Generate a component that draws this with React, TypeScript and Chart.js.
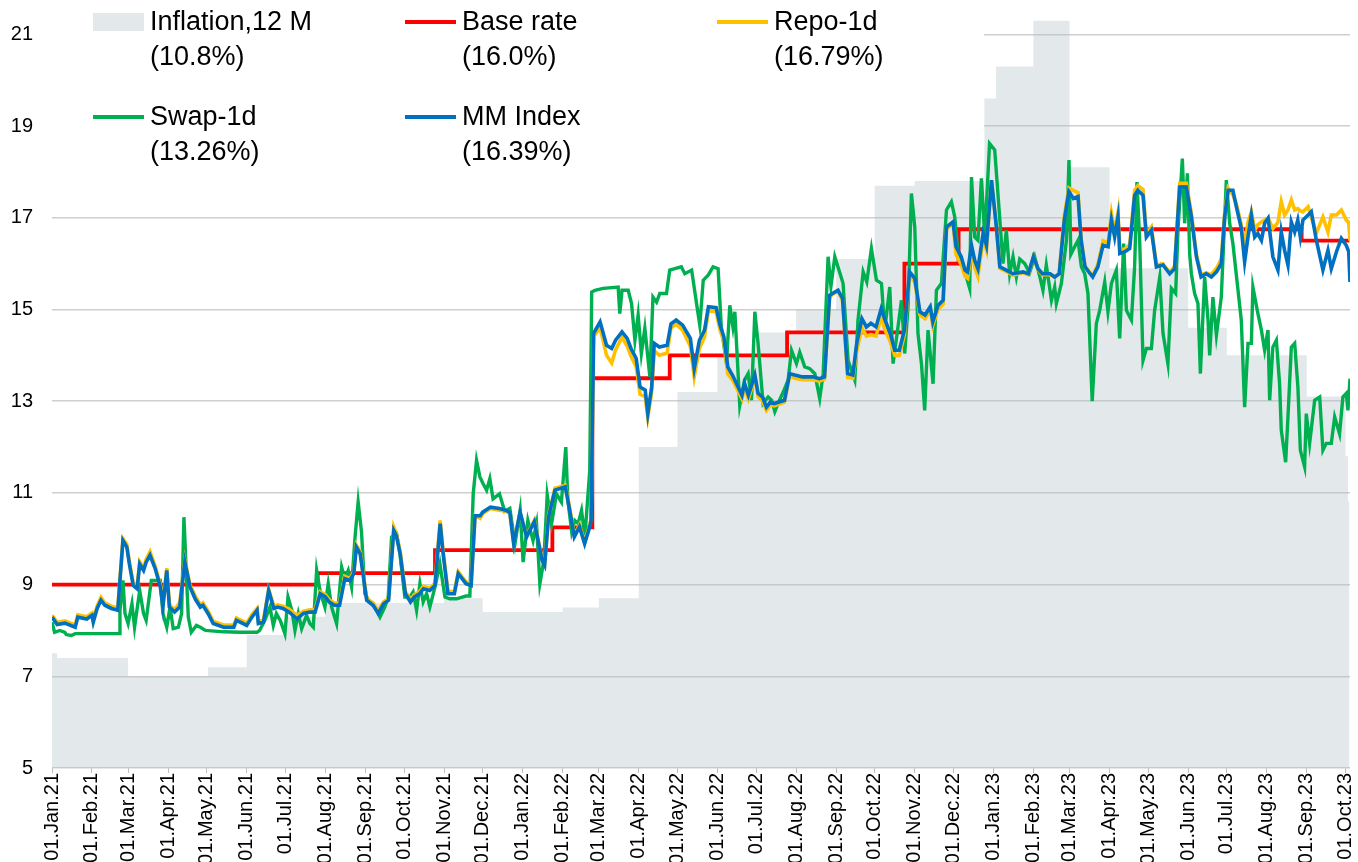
import React, { useEffect, useRef } from "react";
import { Chart, registerables } from "chart.js";

Chart.register(...registerables);

const FONT = "'Liberation Sans', Arial, Helvetica, sans-serif";
const MONTHS = ["Jan", "Feb", "Mar", "Apr", "May", "Jun", "Jul", "Aug", "Sep", "Oct", "Nov", "Dec"];

// x tick labels (first day of each month)
const tickLabels = [
  "01.Jan.21", "01.Feb.21", "01.Mar.21", "01.Apr.21", "01.May.21", "01.Jun.21", "01.Jul.21", "01.Aug.21",
  "01.Sep.21", "01.Oct.21", "01.Nov.21", "01.Dec.21", "01.Jan.22", "01.Feb.22", "01.Mar.22", "01.Apr.22",
  "01.May.22", "01.Jun.22", "01.Jul.22", "01.Aug.22", "01.Sep.22", "01.Oct.22", "01.Nov.22", "01.Dec.22",
  "01.Jan.23", "01.Feb.23", "01.Mar.23", "01.Apr.23", "01.May.23", "01.Jun.23", "01.Jul.23", "01.Aug.23",
  "01.Sep.23", "01.Oct.23",
];
const yTicks = [5, 7, 9, 11, 13, 15, 17, 19, 21];

// Base rate (step changes)
const baseRateDates = ["2021-01-01", "2021-07-26", "2021-10-25", "2022-01-24", "2022-02-24", "2022-04-25", "2022-07-25", "2022-10-24", "2022-12-05", "2023-08-28", "2023-10-04"];
const baseRateValues = [9.0, 9.25, 9.75, 10.25, 13.5, 14.0, 14.5, 16.0, 16.75, 16.5, 16.5];

// Inflation, 12 M (step series)
const inflationDates = ["2021-01-01", "2021-01-05", "2021-03-01", "2021-05-02", "2021-06-01", "2021-07-01", "2021-08-01", "2021-11-01", "2021-12-01", "2022-02-01", "2022-03-01", "2022-04-01", "2022-05-01", "2022-06-01", "2022-07-01", "2022-08-01", "2022-09-01", "2022-10-01", "2022-11-01", "2022-12-25", "2023-01-03", "2023-02-01", "2023-03-01", "2023-04-01", "2023-06-01", "2023-07-01", "2023-09-01", "2023-10-01", "2023-10-03", "2023-10-04"];
const inflationValues = [7.5, 7.4, 7.0, 7.2, 7.9, 8.3, 8.6, 8.7, 8.4, 8.5, 8.7, 12.0, 13.2, 14.0, 14.5, 15.0, 16.1, 17.7, 17.8, 19.6, 20.3, 21.3, 18.1, 15.9, 14.6, 14.0, 13.1, 11.8, 10.8, 10.8];

// [days since 01.Jan.21, %]
const mmIndex: [number, number][] = [
  [0, 8.29], [4, 8.13], [10, 8.16], [18, 8.07], [20, 8.29], [27, 8.25], [31, 8.33], [32, 8.18], [35, 8.48], [38, 8.66],
  [41, 8.55], [46, 8.48], [51, 8.44], [55, 9.96], [58, 9.82], [60, 9.45], [63, 8.98], [66, 8.91], [68, 9.45], [71, 9.31],
  [73, 9.49], [76, 9.64], [80, 9.35], [84, 8.95], [86, 8.51], [89, 9.31], [91, 8.51], [95, 8.4], [99, 8.51], [103, 9.49],
  [107, 8.95], [111, 8.69], [115, 8.51], [117, 8.55], [121, 8.37], [125, 8.15], [133, 8.07], [141, 8.07], [143, 8.22], [151, 8.11],
  [155, 8.29], [159, 8.44], [160, 8.15], [164, 8.18], [168, 8.87], [172, 8.48], [175, 8.51], [179, 8.48], [184, 8.4], [190, 8.25],
  [195, 8.37], [200, 8.4], [204, 8.4], [208, 8.8], [212, 8.73], [215, 8.62], [219, 8.55], [223, 8.55], [227, 9.13], [231, 9.09],
  [234, 9.24], [236, 9.82], [239, 9.67], [244, 8.66], [249, 8.55], [253, 8.37], [257, 8.58], [261, 8.66], [265, 10.18], [267, 10.07],
  [270, 9.67], [274, 8.8], [278, 8.62], [281, 8.73], [285, 8.8], [288, 8.91], [293, 8.87], [297, 8.98], [301, 10.33], [303, 9.75],
  [307, 8.8], [312, 8.8], [315, 9.24], [318, 9.13], [321, 9.02], [325, 8.98], [328, 10.5], [332, 10.5], [334, 10.58], [340, 10.69],
  [347, 10.66], [352, 10.62], [355, 10.58], [358, 9.89], [363, 10.58], [368, 10.04], [374, 10.37], [380, 9.53], [382, 9.42], [385, 10.47],
  [390, 11.06], [398, 11.13], [401, 10.69], [405, 10.04], [409, 10.26], [413, 9.89], [417, 10.26], [418, 10.4], [420, 14.48], [425, 14.73],
  [430, 14.22], [434, 14.15], [437, 14.33], [442, 14.51], [446, 14.37], [449, 14.15], [453, 13.93], [456, 13.31], [460, 13.24], [462, 12.73],
  [465, 13.31], [467, 14.26], [471, 14.18], [477, 14.22], [480, 14.69], [484, 14.77], [489, 14.66], [495, 14.37], [498, 13.71], [502, 14.33],
  [506, 14.55], [509, 15.06], [515, 15.04], [518, 14.66], [521, 14.4], [524, 13.75], [528, 13.55], [535, 13.13], [537, 13.39], [540, 13.13],
  [545, 13.57], [547.5, 13.17], [551, 13.09], [554, 12.87], [557, 12.98], [560, 12.95], [568, 13.02], [572, 13.6], [576, 13.57], [582, 13.53],
  [590, 13.53], [595, 13.49], [599, 13.53], [603, 15.31], [607, 15.38], [609.5, 15.42], [613, 15.24], [617, 13.6], [621, 13.57], [624, 14.26],
  [628, 14.8], [631.5, 14.62], [635, 14.7], [639, 14.62], [643, 15.02], [646, 14.77], [650, 14.48], [653.5, 14.11], [657, 14.11], [661, 14.55],
  [665, 15.82], [669, 15.68], [673, 14.95], [677, 14.88], [681, 15.06], [683, 14.73], [687, 15.09], [691, 15.2], [693.6, 16.8], [698.7, 16.91],
  [701, 16.37], [705, 16.15], [708, 15.86], [710, 15.82], [713, 16.4], [715.5, 16.07], [718, 15.89], [722, 16.66], [724.6, 16.4], [728.5, 17.82],
  [732, 16.88], [735, 15.93], [740, 15.86], [745, 15.78], [753, 15.82], [757, 15.78], [761, 16.15], [764.6, 15.89], [768, 15.78], [774, 15.78],
  [777.5, 15.71], [781, 15.78], [785, 16.95], [788.5, 17.57], [792, 17.42], [795.6, 17.46], [798, 16.51], [801, 15.93], [805, 15.78], [807, 15.71],
  [811, 15.93], [815, 16.4], [819, 16.37], [821.5, 16.95], [824, 16.58], [826.6, 17.02], [828, 16.22], [832, 16.26], [835.7, 16.33], [839.5, 17.49],
  [842, 17.6], [846, 17.49], [848.6, 16.58], [852.5, 16.73], [856.4, 15.93], [861.5, 15.97], [866.7, 15.78], [870.5, 15.89], [874.4, 17.67], [879.6, 17.67],
  [883.5, 17.02], [887.4, 16.15], [891, 15.71], [895, 15.78], [899, 15.71], [903, 15.82], [906.7, 16.0], [909.3, 17.02], [912, 17.6], [915.7, 17.6],
  [918.4, 17.24], [922.2, 16.77], [924.8, 16.04], [927.4, 16.58], [930, 17.06], [932.6, 16.58], [935, 16.66], [937.8, 16.51], [940.3, 16.88], [943, 16.99],
  [946.7, 16.15], [950.6, 15.86], [953.2, 16.69], [955.8, 16.29], [958.4, 15.97], [961, 16.91], [963.6, 16.69], [966, 16.95], [968, 16.58], [970, 16.95],
  [974, 17.06], [976.5, 17.13], [980.4, 16.51], [985.5, 15.86], [989.4, 16.29], [992, 15.89], [996, 16.26], [999.8, 16.55], [1003.6, 16.4], [1005.5, 16.26],
  [1006.5, 15.6],
];

const repo1d: [number, number][] = [
  [0, 8.33], [4, 8.18], [10, 8.21], [18, 8.12], [20, 8.34], [27, 8.3], [31, 8.38], [32, 8.23], [35, 8.53], [38, 8.72],
  [41, 8.6], [46, 8.53], [51, 8.49], [55, 10.0], [58, 9.88], [60, 9.5], [63, 9.03], [66, 8.96], [68, 9.5], [71, 9.36],
  [73, 9.55], [76, 9.72], [80, 9.4], [84, 9.0], [86, 8.56], [89, 9.36], [91, 8.56], [95, 8.45], [99, 8.6], [103, 9.53],
  [107, 9.0], [111, 8.75], [115, 8.56], [117, 8.6], [121, 8.42], [125, 8.2], [133, 8.12], [141, 8.12], [143, 8.27], [151, 8.16],
  [155, 8.34], [159, 8.48], [160, 8.2], [164, 8.23], [168, 8.9], [172, 8.53], [175, 8.56], [179, 8.53], [184, 8.46], [190, 8.33],
  [195, 8.42], [200, 8.45], [204, 8.45], [208, 8.84], [212, 8.78], [215, 8.67], [219, 8.6], [223, 8.6], [227, 9.18], [231, 9.13],
  [234, 9.28], [236, 9.86], [239, 9.72], [244, 8.7], [249, 8.6], [253, 8.42], [257, 8.62], [261, 8.7], [265, 10.26], [267, 10.12],
  [270, 9.72], [274, 8.85], [278, 8.67], [281, 8.78], [285, 8.85], [288, 8.96], [293, 8.92], [297, 9.03], [301, 10.4], [303, 9.8],
  [307, 8.85], [312, 8.85], [315, 9.28], [318, 9.17], [321, 9.06], [325, 9.02], [328, 10.5], [332, 10.45], [334, 10.55], [340, 10.66],
  [347, 10.62], [352, 10.6], [355, 10.55], [358, 9.92], [363, 10.56], [368, 10.06], [374, 10.4], [380, 9.56], [382, 9.45], [385, 10.5],
  [390, 11.1], [398, 11.16], [401, 10.74], [405, 10.08], [409, 10.3], [413, 9.93], [417, 10.3], [418, 10.45], [420, 14.42], [425, 14.6],
  [430, 14.0], [434, 13.83], [437, 14.12], [442, 14.4], [446, 14.2], [449, 13.98], [453, 13.75], [456, 13.15], [460, 13.1], [462, 12.65],
  [465, 13.2], [467, 14.1], [471, 14.0], [477, 14.05], [480, 14.6], [484, 14.68], [489, 14.55], [495, 14.2], [498, 13.53], [502, 14.15],
  [506, 14.4], [509, 14.98], [515, 14.95], [518, 14.55], [521, 14.3], [524, 13.6], [528, 13.45], [535, 13.05], [537, 13.3], [540, 13.05],
  [545, 13.5], [547.5, 13.1], [551, 13.0], [554, 12.8], [557, 12.92], [560, 12.9], [568, 12.98], [572, 13.55], [576, 13.5], [582, 13.47],
  [590, 13.47], [595, 13.44], [599, 13.48], [603, 15.28], [607, 15.36], [609.5, 15.4], [613, 15.2], [617, 13.52], [621, 13.5], [624, 14.1],
  [628, 14.6], [631.5, 14.42], [635, 14.45], [639, 14.42], [643, 14.85], [646, 14.55], [650, 14.3], [653.5, 14.0], [657, 14.0], [661, 14.45],
  [665, 15.75], [669, 15.6], [673, 14.88], [677, 14.8], [681, 15.0], [683, 14.65], [687, 15.0], [691, 15.12], [693.6, 16.75], [698.7, 16.88],
  [701, 16.2], [705, 15.98], [708, 15.72], [710, 15.68], [713, 16.3], [715.5, 15.92], [718, 15.72], [722, 16.55], [724.6, 16.3], [728.5, 17.8],
  [732, 16.9], [735, 15.9], [740, 15.83], [745, 15.75], [753, 15.8], [757, 15.76], [761, 16.15], [764.6, 15.87], [768, 15.76], [774, 15.76],
  [777.5, 15.7], [781, 15.78], [785, 17.05], [788.5, 17.65], [792, 17.6], [795.6, 17.55], [798, 16.55], [801, 15.95], [805, 15.8], [807, 15.73],
  [811, 15.98], [815, 16.5], [819, 16.45], [821.5, 17.1], [824, 16.7], [826.6, 17.12], [828, 16.3], [832, 16.32], [835.7, 16.42], [839.5, 17.6],
  [842, 17.7], [846, 17.62], [848.6, 16.65], [852.5, 16.8], [856.4, 15.97], [861.5, 16.0], [866.7, 15.8], [870.5, 15.95], [874.4, 17.75], [879.6, 17.75],
  [883.5, 17.1], [887.4, 16.2], [891, 15.76], [895, 15.8], [899, 15.76], [903, 15.9], [906.7, 16.1], [909.3, 17.1], [912, 17.65], [915.7, 17.5],
  [918.4, 17.3], [922.2, 16.85], [924.8, 16.4], [927.4, 16.9], [930, 17.13], [932.6, 16.73], [935, 16.85], [937.8, 16.91], [940.3, 16.95], [943, 16.99],
  [946.7, 16.77], [950.6, 16.9], [953.2, 17.35], [955.8, 17.06], [958.4, 17.17], [961, 17.39], [963.6, 17.17], [966, 17.2], [968, 17.15], [970, 17.13],
  [974, 17.24], [976.5, 17.02], [980.4, 16.66], [985.5, 17.02], [989.4, 16.69], [992, 17.06], [996, 17.06], [999.8, 17.17], [1003.6, 16.95], [1005.5, 16.9],
  [1006.5, 16.5],
];

const swap1d: [number, number][] = [
  [0, 8.18], [2, 7.96], [6, 8.0], [10, 7.96], [11, 7.91], [15, 7.89], [18, 7.93], [30, 7.93], [42, 7.93], [52, 7.93],
  [52.7, 8.44], [55, 9.09], [56.6, 8.37], [59, 8.15], [62, 8.58], [64, 8.07], [68, 8.87], [71, 8.37], [73, 8.22], [77, 9.09],
  [84, 9.09], [86, 8.37], [89, 8.07], [91.5, 8.51], [94, 8.04], [98, 8.07], [100.5, 8.37], [102.3, 10.47], [104.4, 9.09], [105.7, 8.29],
  [108, 7.96], [112, 8.11], [115, 8.07], [119, 8.0], [133, 7.97], [146, 7.96], [159, 7.96], [161, 8.0], [165, 8.22], [169, 8.51],
  [171.6, 8.11], [174, 8.37], [177, 8.22], [180.6, 7.93], [183, 8.73], [186, 8.44], [188.4, 8.0], [191, 8.37], [193.6, 8.04], [197.4, 8.33],
  [200, 8.15], [202.6, 8.07], [205.2, 9.31], [207.8, 8.87], [211.6, 8.51], [214.2, 9.02], [216.8, 8.51], [220.7, 8.15], [224.6, 9.38], [227, 9.13],
  [229.7, 9.31], [232.3, 8.95], [235, 10.04], [237.4, 10.8], [240, 10.15], [242.6, 8.8], [246.5, 8.62], [250.4, 8.51], [254.3, 8.29], [258, 8.51],
  [260.7, 8.73], [263.3, 10.04], [267.2, 10.11], [269.8, 9.67], [273.6, 8.73], [277.5, 8.73], [280, 8.84], [282.7, 8.44], [285.3, 9.02], [287.8, 8.62],
  [290.5, 8.8], [293, 8.51], [297, 8.95], [300.8, 9.45], [304.7, 8.73], [308.5, 8.69], [313.7, 8.69], [321, 8.75], [324, 8.75], [326.6, 10.98],
  [329.2, 11.71], [331.8, 11.35], [334.3, 11.2], [337, 11.06], [339.5, 11.31], [342, 10.87], [347, 10.98], [351, 10.6], [355, 10.66], [359, 9.89],
  [363, 10.62], [365.3, 9.49], [369, 10.4], [373, 9.96], [375.7, 10.33], [378.3, 9.02], [381.4, 9.53], [384, 10.95], [387.4, 10.33], [391.2, 10.98],
  [395, 10.8], [398.4, 12.0], [400, 10.84], [403, 10.15], [405.4, 10.4], [408, 10.33], [410.6, 10.62], [413.2, 10.04], [417, 11.49], [418.5, 15.38],
  [421, 15.42], [427.4, 15.46], [439, 15.49], [440.3, 14.91], [442, 15.42], [446.8, 15.42], [449.4, 15.13], [452, 14.33], [454.5, 14.88], [457, 14.04],
  [459.7, 14.59], [463.6, 13.53], [466, 15.27], [468.8, 15.16], [471.3, 15.35], [476.5, 15.35], [479, 15.86], [483, 15.89], [488, 15.93], [490.7, 15.78],
  [496, 15.86], [499.8, 15.13], [502.3, 14.66], [505, 15.64], [508.8, 15.75], [512.6, 15.93], [516.5, 15.89], [519, 14.62], [523, 13.82], [525.6, 15.09],
  [528, 14.62], [529.5, 14.95], [533.3, 12.91], [537, 13.46], [539.8, 13.6], [542.4, 13.02], [545, 14.95], [547.5, 14.26], [551.4, 12.95], [555.3, 13.09],
  [558, 13.02], [560.5, 12.77], [563, 12.95], [567, 13.2], [570.8, 13.46], [573.4, 14.11], [577.3, 13.82], [579.8, 14.07], [583.7, 13.75], [587.6, 13.71],
  [591.5, 13.6], [595.3, 13.06], [598, 13.6], [601.8, 16.15], [604, 15.5], [607, 16.15], [613.4, 15.57], [617.3, 13.89], [622.5, 13.46], [625, 14.77],
  [629, 15.82], [631.8, 15.6], [635.4, 16.33], [639.3, 15.64], [643.2, 15.57], [645.7, 14.55], [649.6, 15.49], [652.2, 13.82], [656, 14.62], [658.7, 15.2],
  [661.2, 14.04], [663.8, 15.06], [666.4, 17.53], [669, 16.8], [671.5, 14.48], [674.2, 13.82], [676.7, 12.8], [679.3, 14.55], [683.2, 13.38], [685.8, 15.42],
  [689.7, 15.57], [693.6, 17.17], [697.4, 17.35], [700, 17.02], [702.6, 16.22], [706.4, 15.93], [709, 15.71], [711.6, 15.46], [713, 17.89], [715.5, 16.58],
  [718, 16.51], [720.7, 17.86], [723.3, 16.58], [727, 18.62], [731, 18.48], [735, 16.95], [737.4, 16.0], [740, 16.73], [742.6, 15.78], [745.2, 16.15],
  [747.8, 15.71], [750.4, 16.1], [754.3, 16.0], [758, 15.8], [762, 16.15], [766, 15.71], [768.4, 15.42], [771, 15.97], [775, 15.2], [777.5, 15.49],
  [778.8, 15.13], [782.7, 15.57], [786.6, 16.51], [788.6, 18.26], [790, 16.2], [793, 16.37], [795.6, 16.51], [798.2, 15.93], [800.8, 15.78], [803.3, 15.35],
  [806.6, 13.0], [809.8, 14.69], [812.4, 14.98], [816.3, 15.6], [818.8, 14.95], [821.5, 15.57], [825.3, 15.86], [827.9, 14.37], [831, 16.44], [833.1, 14.98],
  [837, 14.77], [839.5, 15.93], [841.3, 17.78], [843.4, 16.51], [846, 13.89], [848.6, 14.15], [852.5, 14.15], [855, 14.98], [859, 15.71], [861.5, 14.48],
  [865.3, 13.82], [868, 15.46], [871.3, 15.35], [873.1, 16.73], [876.5, 18.29], [878.3, 16.88], [880.4, 17.97], [882.2, 16.2], [883.5, 15.78], [886, 15.35],
  [888.6, 15.13], [890.5, 13.6], [893.8, 15.71], [896.4, 14.77], [897.7, 14.0], [900.2, 15.27], [902.9, 14.44], [906.7, 15.27], [910.6, 17.82], [913.2, 16.88],
  [915.7, 16.44], [922.2, 14.77], [924.8, 12.87], [927.4, 14.26], [930, 14.26], [931.2, 15.49], [935.1, 14.91], [937.8, 14.55], [940.3, 14.11], [942.9, 14.55],
  [944.2, 13.02], [946.7, 14.18], [949.4, 14.33], [951.9, 13.38], [953.2, 12.37], [956.6, 11.67], [958.4, 12.66], [961, 14.18], [963.6, 14.26], [966.1, 13.31],
  [968, 11.93], [971.3, 11.57], [972.6, 12.73], [975.2, 12.08], [979.1, 13.02], [983, 13.09], [985.5, 11.93], [988.1, 12.08], [992, 12.08], [994.6, 12.66],
  [998.4, 12.29], [1001, 13.09], [1003.6, 13.17], [1004.9, 12.8], [1006.5, 13.49],
];

const legendNames = ["Inflation,12 M", "Base rate", "Repo-1d", "Swap-1d", "MM Index"];
const legendLast = ["(10.8%)", "(16.0%)", "(16.79%)", "(13.26%)", "(16.39%)"];

const COLORS = {
  inflationFill: "rgba(178, 193, 199, 0.37)",
  inflationKey: "#E3E8EA",
  base: "#FF0000",
  repo: "#FFC000",
  swap: "#00B050",
  mm: "#0070C0",
};

const ORIGIN = Date.UTC(2021, 0, 1);
const DAY_MS = 86400000;
const dayOfIso = (iso: string) => {
  const [y, m, d] = iso.split("-").map(Number);
  return (Date.UTC(y, m - 1, d) - ORIGIN) / DAY_MS;
};
const dayOfLabel = (lab: string) => {
  const [d, mon, yy] = lab.split(".");
  return (Date.UTC(2000 + Number(yy), MONTHS.indexOf(mon), Number(d)) - ORIGIN) / DAY_MS;
};
const tickDays = tickLabels.map(dayOfLabel);
const X_MAX = 1006.5;

const legendPlugin = {
  id: "boxLegend",
  beforeDatasetsDraw(chart: any) {
    const { ctx, chartArea } = chart;
    ctx.save();
    ctx.fillStyle = "#ffffff";
    ctx.fillRect(chartArea.left, chartArea.top, 984 - chartArea.left, 168 - chartArea.top);
    ctx.restore();
  },
  afterDraw(chart: any) {
    const ctx = chart.ctx as CanvasRenderingContext2D;
    const keyColors = [COLORS.inflationKey, COLORS.base, COLORS.repo, COLORS.swap, COLORS.mm];
    const colX = [93, 405, 717];
    const rowY = [22, 117];
    ctx.save();
    ctx.font = `27px ${FONT}`;
    ctx.textBaseline = "middle";
    ctx.textAlign = "left";
    legendNames.forEach((name, i) => {
      const sx = colX[i % 3];
      const cy = rowY[Math.floor(i / 3)];
      if (i === 0) {
        ctx.fillStyle = keyColors[i];
        ctx.fillRect(sx, cy - 9, 51, 18);
      } else {
        ctx.strokeStyle = keyColors[i];
        ctx.lineWidth = 4;
        ctx.lineCap = "butt";
        ctx.beginPath();
        ctx.moveTo(sx, cy);
        ctx.lineTo(sx + 51, cy);
        ctx.stroke();
      }
      ctx.fillStyle = "#000000";
      ctx.fillText(name, sx + 57, cy + 1);
      ctx.fillText(legendLast[i], sx + 57, cy + 36);
    });
    ctx.restore();
  },
};

export default function App() {
  const canvasRef = useRef<HTMLCanvasElement | null>(null);

  useEffect(() => {
    if (!canvasRef.current) return;
    const toXY = (arr: [number, number][]) => arr.map(([x, y]) => ({ x, y }));
    const chart = new Chart(canvasRef.current, {
      type: "line",
      data: {
        datasets: [
          {
            label: "MM Index",
            data: toXY(mmIndex),
            borderColor: COLORS.mm,
            borderWidth: 3.6,
            pointRadius: 0,
            tension: 0,
            fill: false,
            order: 1,
          },
          {
            label: "Repo-1d",
            data: toXY(repo1d),
            borderColor: COLORS.repo,
            borderWidth: 3.6,
            pointRadius: 0,
            tension: 0,
            fill: false,
            order: 2,
          },
          {
            label: "Swap-1d",
            data: toXY(swap1d),
            borderColor: COLORS.swap,
            borderWidth: 3.4,
            pointRadius: 0,
            tension: 0,
            fill: false,
            order: 3,
          },
          {
            label: "Base rate",
            data: baseRateDates.map((d, i) => ({ x: dayOfIso(d), y: baseRateValues[i] })),
            borderColor: COLORS.base,
            borderWidth: 3.8,
            pointRadius: 0,
            stepped: true,
            fill: false,
            order: 4,
          },
          {
            label: "Inflation,12 M",
            data: inflationDates.map((d, i) => ({ x: Math.min(dayOfIso(d), X_MAX), y: inflationValues[i] })),
            borderWidth: 0,
            borderColor: "rgba(0,0,0,0)",
            backgroundColor: COLORS.inflationFill,
            pointRadius: 0,
            stepped: true,
            fill: "start",
            order: 5,
          },
        ] as any,
      },
      options: {
        responsive: false,
        animation: false,
        devicePixelRatio: 1,
        layout: { padding: { left: 0, right: 8, top: 0, bottom: 0 } },
        plugins: {
          legend: { display: false },
          tooltip: { enabled: false },
        },
        scales: {
          x: {
            type: "linear",
            min: 0,
            max: X_MAX,
            afterBuildTicks: (scale: any) => {
              scale.ticks = tickDays.map((v) => ({ value: v }));
            },
            afterFit: (scale: any) => {
              scale.height = 94;
              scale.paddingLeft = 0;
              scale.paddingRight = 0;
              scale.paddingTop = 0;
              scale.paddingBottom = 0;
            },
            ticks: {
              autoSkip: false,
              minRotation: 90,
              maxRotation: 90,
              padding: 0,
              color: "#000000",
              font: { family: FONT, size: 20 },
              callback: (_v: any, i: number) => tickLabels[i],
            },
            grid: {
              drawOnChartArea: false,
              drawTicks: true,
              tickLength: 5,
              color: "#bfbfbf",
            },
            border: { display: false },
          },
          y: {
            type: "linear",
            min: 5,
            max: 21.75,
            afterBuildTicks: (scale: any) => {
              scale.ticks = yTicks.map((v) => ({ value: v }));
            },
            afterFit: (scale: any) => {
              scale.width = 52;
              scale.paddingLeft = 0;
              scale.paddingRight = 0;
              scale.paddingTop = 0;
              scale.paddingBottom = 0;
            },
            ticks: {
              padding: 19,
              color: "#000000",
              font: { family: FONT, size: 20 },
            },
            grid: {
              color: "#cfcfcf",
              lineWidth: 1.5,
              drawTicks: false,
            },
            border: { display: false },
          },
        },
      } as any,
      plugins: [legendPlugin],
    });
    return () => chart.destroy();
  }, []);

  return (
    <div style={{ position: "fixed", left: 0, top: 0, width: 1358, height: 862, background: "#ffffff", overflow: "hidden" }}>
      <canvas ref={canvasRef} width={1358} height={862} style={{ display: "block", width: 1358, height: 862 }} />
    </div>
  );
}
